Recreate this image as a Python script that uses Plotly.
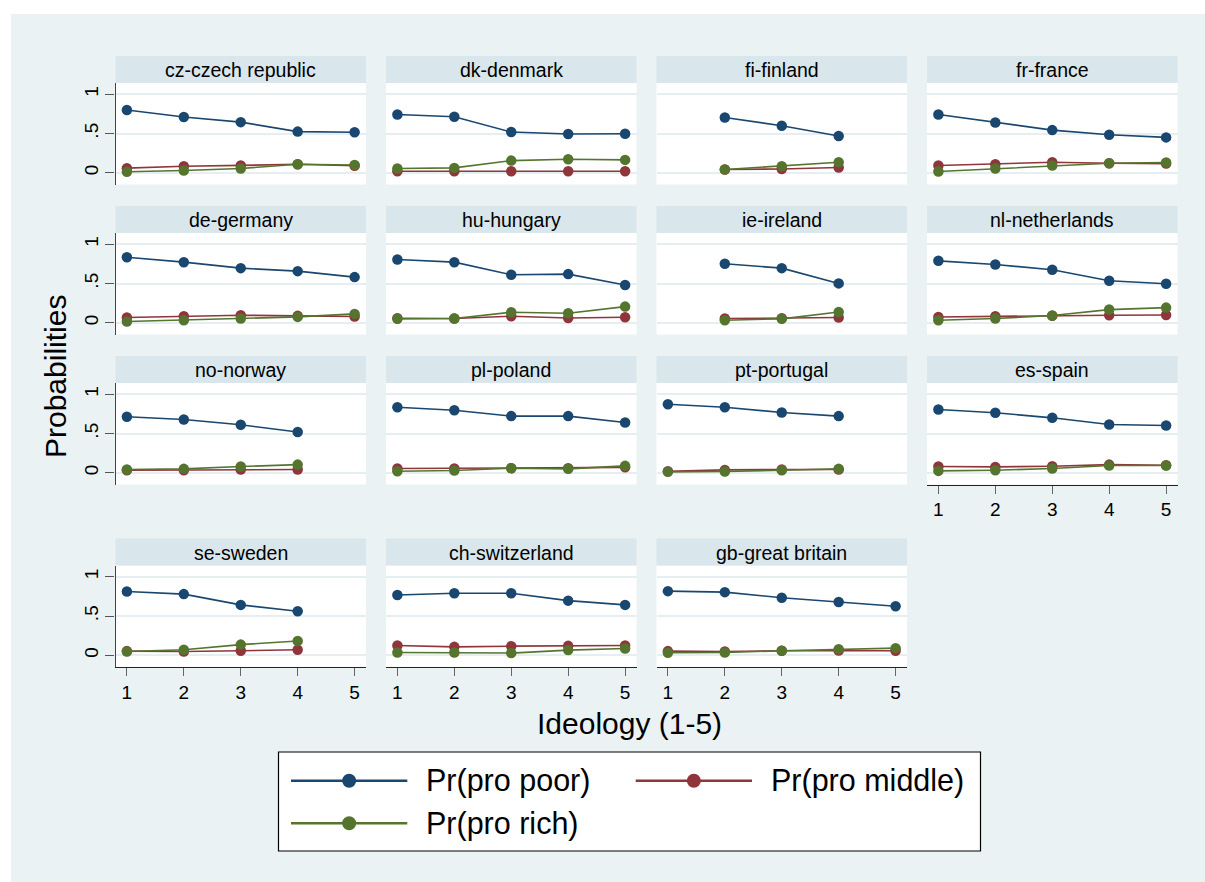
import plotly.graph_objects as go

# ---------------- data ----------------
countries = ["cz-czech republic", "dk-denmark", "fi-finland", "fr-france",
             "de-germany", "hu-hungary", "ie-ireland", "nl-netherlands",
             "no-norway", "pl-poland", "pt-portugal", "es-spain",
             "se-sweden", "ch-switzerland", "gb-great britain"]
ideology = [1, 2, 3, 4, 5]
x_tick_labels = ["1", "2", "3", "4", "5"]
y_tick_vals = [0, 0.5, 1]
y_tick_labels = ["0", ".5", "1"]

pro_poor = [
    [0.800, 0.710, 0.645, 0.525, 0.517],
    [0.743, 0.713, 0.519, 0.494, 0.498],
    [None, 0.705, 0.599, 0.468, None],
    [0.743, 0.641, 0.544, 0.485, 0.451],
    [0.835, 0.772, 0.696, 0.658, 0.582],
    [0.806, 0.772, 0.612, 0.620, 0.481],
    [None, 0.751, 0.696, 0.502, None],
    [0.789, 0.743, 0.675, 0.536, 0.498],
    [0.713, 0.679, 0.612, 0.519, None],
    [0.835, 0.797, 0.722, 0.722, 0.641],
    [0.873, 0.835, 0.768, 0.722, None],
    [0.806, 0.764, 0.700, 0.616, 0.603],
    [0.812, 0.779, 0.642, 0.562, None],
    [0.767, 0.790, 0.790, 0.696, 0.642],
    [0.817, 0.804, 0.733, 0.679, 0.625],
]
pro_middle = [
    [0.060, 0.085, 0.095, 0.110, 0.090],
    [0.020, 0.020, 0.020, 0.020, 0.020],
    [None, 0.042, 0.050, 0.068, None],
    [0.093, 0.110, 0.135, 0.122, 0.118],
    [0.068, 0.085, 0.097, 0.089, 0.080],
    [0.059, 0.055, 0.084, 0.062, 0.072],
    [None, 0.055, 0.059, 0.068, None],
    [0.075, 0.085, 0.090, 0.097, 0.100],
    [0.034, 0.034, 0.042, 0.042, None],
    [0.055, 0.057, 0.059, 0.059, 0.070],
    [0.021, 0.038, 0.042, 0.042, None],
    [0.080, 0.076, 0.084, 0.105, 0.097],
    [0.054, 0.050, 0.058, 0.071, None],
    [0.125, 0.108, 0.117, 0.121, 0.125],
    [0.054, 0.050, 0.058, 0.062, 0.058],
]
pro_rich = [
    [0.015, 0.030, 0.055, 0.110, 0.100],
    [0.055, 0.063, 0.156, 0.173, 0.165],
    [None, 0.042, 0.084, 0.135, None],
    [0.017, 0.055, 0.093, 0.122, 0.131],
    [0.017, 0.034, 0.055, 0.076, 0.114],
    [0.051, 0.055, 0.135, 0.122, 0.207],
    [None, 0.034, 0.051, 0.139, None],
    [0.034, 0.055, 0.093, 0.169, 0.194],
    [0.042, 0.051, 0.080, 0.105, None],
    [0.021, 0.030, 0.059, 0.051, 0.089],
    [0.013, 0.017, 0.034, 0.051, None],
    [0.025, 0.034, 0.055, 0.093, 0.093],
    [0.050, 0.071, 0.137, 0.183, None],
    [0.037, 0.037, 0.029, 0.067, 0.087],
    [0.033, 0.037, 0.058, 0.079, 0.092],
]
series_names = ["Pr(pro poor)", "Pr(pro middle)", "Pr(pro rich)"]
series_colors = ["#1a476f", "#90353b", "#55752f"]
series_values = [pro_poor, pro_middle, pro_rich]

# panels carrying an x axis (bottom of each column)
x_axis_panels = {11, 12, 13, 14}

# ---------------- geometry (pixels) ----------------
W, H = 1205, 882
FONT = "Liberation Sans, Arial, Helvetica, sans-serif"
BG = "#EAF2F3"
STRIP = "#D9E6EB"
col_left = [115.5, 386.0, 656.5, 927.0]
col_w = 250.5
row_strip_top = [56.0, 206.0, 356.0, 538.5]
strip_h = 27.0
plot_h = 101.5


def px(x):
    return x / W


def py(y):
    return 1 - y / H


fig = go.Figure()
layout = dict(
    width=W, height=H,
    margin=dict(l=0, r=0, t=0, b=0),
    paper_bgcolor=BG, plot_bgcolor="white",
    showlegend=False,
    font=dict(family=FONT, color="black"),
)
shapes = []
annotations = []

# white outer frame (top / left)
shapes.append(dict(type="rect", xref="paper", yref="paper", x0=0, x1=px(11), y0=0, y1=1,
                   fillcolor="white", line=dict(width=0), layer="below"))
shapes.append(dict(type="rect", xref="paper", yref="paper", x0=0, x1=1, y0=py(14), y1=1,
                   fillcolor="white", line=dict(width=0), layer="below"))

for k, name in enumerate(countries):
    r, c = divmod(k, 4)
    L = col_left[c]
    top = row_strip_top[r] + strip_h
    bot = top + plot_h
    xname = "xaxis" if k == 0 else f"xaxis{k+1}"
    yname = "yaxis" if k == 0 else f"yaxis{k+1}"
    xref = "x" if k == 0 else f"x{k+1}"
    yref = "y" if k == 0 else f"y{k+1}"
    has_x = k in x_axis_panels
    has_y = c == 0
    layout[xname] = dict(
        domain=[px(L), px(L + col_w)], anchor=yref, range=[0.8, 5.2],
        tickvals=ideology, ticktext=x_tick_labels,
        showgrid=False, zeroline=False,
        showline=has_x, linecolor="#222", linewidth=1.2,
        ticks="outside" if has_x else "", ticklen=8, tickwidth=1.2, tickcolor="#666",
        showticklabels=has_x, tickfont=dict(size=19, family=FONT, color="black"),
        fixedrange=True,
    )
    layout[yname] = dict(
        domain=[py(bot), py(top)], anchor=xref, range=[-0.148, 1.143],
        tickvals=y_tick_vals, ticktext=y_tick_labels,
        showgrid=True, gridcolor="#E6EEF1", gridwidth=1.5, zeroline=False,
        showline=has_y, linecolor="#444", linewidth=1.2,
        ticks="outside" if has_y else "", ticklen=9, tickwidth=1.2, tickcolor="#555",
        showticklabels=has_y, tickangle=-90,
        tickfont=dict(size=19, family=FONT, color="black"),
        fixedrange=True,
    )
    # strip
    shapes.append(dict(type="rect", xref="paper", yref="paper",
                       x0=px(L), x1=px(L + col_w),
                       y0=py(row_strip_top[r] + strip_h), y1=py(row_strip_top[r]),
                       fillcolor=STRIP, line=dict(width=0), layer="below"))
    annotations.append(dict(text=name, xref="paper", yref="paper",
                            x=px(L + col_w / 2), y=py(row_strip_top[r] + strip_h / 2 + 0.5),
                            xanchor="center", yanchor="middle", showarrow=False,
                            font=dict(size=19.5, family=FONT, color="black")))
    for sname, scol, svals in zip(series_names, series_colors, series_values):
        fig.add_trace(go.Scatter(
            x=ideology, y=svals[k], name=sname, mode="lines+markers",
            line=dict(color=scol, width=1.6),
            marker=dict(color=scol, size=10.5, line=dict(width=0)),
            xaxis=xref, yaxis=yref, showlegend=False,
            hovertemplate=f"{name}<br>{sname}: %{{y:.2f}}<extra></extra>",
        ))

# axis titles
annotations.append(dict(text="Probabilities", xref="paper", yref="paper",
                        x=px(55), y=py(377), textangle=-90, showarrow=False,
                        xanchor="center", yanchor="middle",
                        font=dict(size=30, family=FONT, color="black")))
annotations.append(dict(text="Ideology (1-5)", xref="paper", yref="paper",
                        x=px(629), y=py(723), showarrow=False,
                        xanchor="center", yanchor="middle",
                        font=dict(size=30, family=FONT, color="black")))

# legend (drawn as a key box)
shapes.append(dict(type="rect", xref="paper", yref="paper",
                   x0=px(278.5), x1=px(980.5), y0=py(851), y1=py(752),
                   fillcolor="white", line=dict(color="black", width=1.2), layer="above"))
legend_pos = [(291.0, 780.7), (635.7, 780.7), (291.0, 823.3)]
line_len = 116.3
rad = 7.0
for (lx, ly), sname, scol in zip(legend_pos, series_names, series_colors):
    shapes.append(dict(type="line", xref="paper", yref="paper",
                       x0=px(lx), x1=px(lx + line_len), y0=py(ly), y1=py(ly),
                       line=dict(color=scol, width=2.4), layer="above"))
    cx = lx + line_len / 2
    shapes.append(dict(type="circle", xref="paper", yref="paper",
                       x0=px(cx - rad), x1=px(cx + rad), y0=py(ly + rad), y1=py(ly - rad),
                       fillcolor=scol, line=dict(width=0), layer="above"))
    annotations.append(dict(text=sname, xref="paper", yref="paper",
                            x=px(lx + line_len + 17), y=py(ly), showarrow=False,
                            xanchor="left", yanchor="middle",
                            font=dict(size=30.5, family=FONT, color="black")))

layout["shapes"] = shapes
layout["annotations"] = annotations
fig.update_layout(**layout)

fig.write_html("out.html", config={"displayModeBar": False},
               post_script="document.body.style.margin='0';")
